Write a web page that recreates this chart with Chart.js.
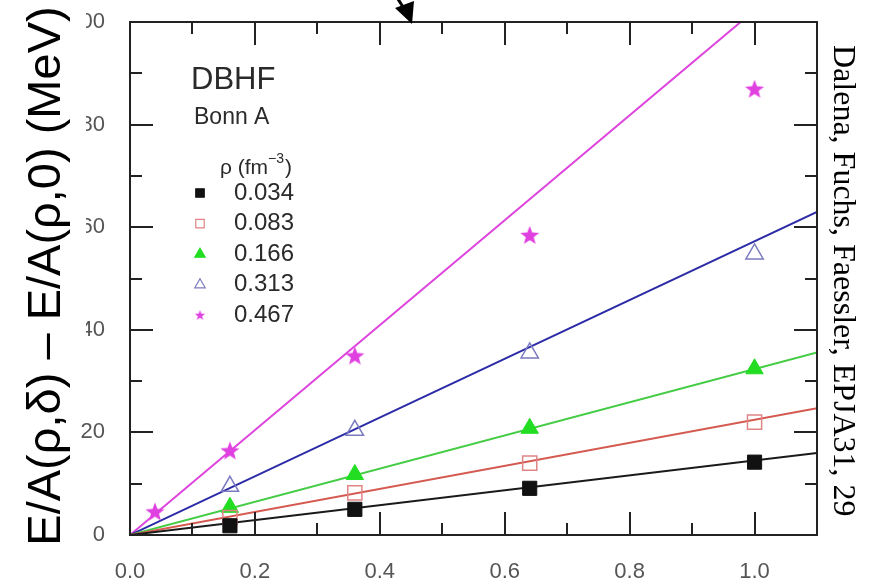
<!DOCTYPE html>
<html>
<head>
<meta charset="utf-8">
<script src="https://cdn.jsdelivr.net/npm/chart.js@4.4.1/dist/chart.umd.min.js"></script>
<style>
  html, body { margin: 0; padding: 0; background: #fff; }
  #wrap { width: 872px; height: 586px; }
</style>
</head>
<body>
<div id="wrap"><canvas id="deltaChart" width="872" height="586"></canvas></div>
<script>
// densities rho (fm^-3) and the data (x = delta^2)
const densities = ['0.034', '0.083', '0.166', '0.313', '0.467'];
const deltaSq = [0.16, 0.36, 0.64, 1.0];
const deltaSqStar = [0.04, 0.16, 0.36, 0.64, 1.0];

const rho034 = [1.8, 5.0, 9.1, 14.2];
const rho083 = [3.4, 8.2, 14.0, 22.0];
const rho166 = [5.4, 11.8, 20.8, 32.4];
const rho313 = [9.5, 20.4, 35.5, 54.8];
const rho467 = [4.4, 16.3, 34.8, 58.3, 86.8];

// straight-line fits, through origin
const fitX = [0, 1.1];
const fit034 = [0, 16.0];
const fit083 = [0, 24.7];
const fit166 = [0, 35.6];
const fit313 = [0, 63.0];
const fit467 = [0, 112.5];

const xTicks = [0, 0.2, 0.4, 0.6, 0.8, 1.0];
const yTicks = [0, 20, 40, 60, 80, 100];

const zip = (xs, ys) => xs.map((x, i) => ({ x: x, y: ys[i] }));

function makeStar(r, color) {
    const c = document.createElement('canvas');
    c.width = c.height = Math.ceil(r * 2 + 2);
    const g = c.getContext('2d');
    const cx = c.width / 2, cy = c.height / 2;
    g.beginPath();
    for (let i = 0; i < 10; i++) {
        const rad = i % 2 === 0 ? r : r * 0.42;
        const a = -Math.PI / 2 + i * Math.PI / 5;
        g.lineTo(cx + rad * Math.cos(a), cy + rad * Math.sin(a));
    }
    g.closePath();
    g.fillStyle = color;
    g.fill();
    return c;
}

const starBig = makeStar(10, '#e040e0');
const starSmall = makeStar(5.5, '#e040e0');

const markerSets = [
    { label: densities[0], data: zip(deltaSq, rho034), pointStyle: 'rect', pointRadius: 10,
      backgroundColor: '#111', borderColor: '#111', pointBorderWidth: 1 },
    { label: densities[1], data: zip(deltaSq, rho083), pointStyle: 'rect', pointRadius: 10,
      backgroundColor: 'rgba(0,0,0,0)', borderColor: '#e08585', pointBorderWidth: 1.5 },
    { label: densities[2], data: zip(deltaSq, rho166), pointStyle: 'triangle', pointRadius: 10,
      backgroundColor: '#22dd22', borderColor: '#22dd22', pointBorderWidth: 1 },
    { label: densities[3], data: zip(deltaSq, rho313), pointStyle: 'triangle', pointRadius: 10,
      backgroundColor: 'rgba(0,0,0,0)', borderColor: '#7a7abf', pointBorderWidth: 1.5 },
    { label: densities[4], data: zip(deltaSqStar, rho467), pointStyle: starBig, pointRadius: 10,
      backgroundColor: '#e040e0', borderColor: '#e040e0', pointBorderWidth: 0 }
];

const fitSets = [
    { data: zip(fitX, fit034), borderColor: '#1a1a1a' },
    { data: zip(fitX, fit083), borderColor: '#d45a50' },
    { data: zip(fitX, fit166), borderColor: '#44cc44' },
    { data: zip(fitX, fit313), borderColor: '#2b2ba8' },
    { data: zip(fitX, fit467), borderColor: '#dd44dd' }
];

const datasets = [];
fitSets.forEach(f => datasets.push({
    data: f.data, borderColor: f.borderColor, borderWidth: 2,
    showLine: true, pointRadius: 0, order: 2, clip: 0
}));
markerSets.forEach(m => datasets.push(Object.assign({ showLine: false, order: 1 }, m)));

const legendMarkers = [
    { style: 'rect', fill: '#111', stroke: '#111', r: 6 },
    { style: 'rect', fill: null, stroke: '#e08585', r: 6 },
    { style: 'triangle', fill: '#22dd22', stroke: '#22dd22', r: 6 },
    { style: 'triangle', fill: null, stroke: '#7a7abf', r: 6 },
    { style: starSmall }
];

const decorations = {
    id: 'decorations',
    afterDraw(chart) {
        const ctx = chart.ctx;
        const a = chart.chartArea;
        const xs = chart.scales.x, ys = chart.scales.y;
        ctx.save();

        // white block behind the big axis title (hides part of the tick labels, as in the scan)
        ctx.fillStyle = '#fff';
        ctx.fillRect(0, 0, 86, 345);

        // frame
        ctx.strokeStyle = '#222';
        ctx.lineWidth = 2;
        ctx.strokeRect(a.left, a.top, a.right - a.left, a.bottom - a.top);

        // inward ticks on all four sides
        ctx.lineWidth = 2;
        ctx.beginPath();
        for (let v = 0.1; v < 1.1; v += 0.1) {
            const px = Math.round(xs.getPixelForValue(v));
            const major = Math.round(v * 10) % 2 === 0;
            const len = major ? 23 : 12;
            ctx.moveTo(px, a.bottom); ctx.lineTo(px, a.bottom - len);
            ctx.moveTo(px, a.top); ctx.lineTo(px, a.top + len);
        }
        for (let v = 10; v < 100; v += 10) {
            const py = Math.round(ys.getPixelForValue(v));
            const major = v % 20 === 0;
            const len = major ? 23 : 12;
            ctx.moveTo(a.left, py); ctx.lineTo(a.left + len, py);
            ctx.moveTo(a.right, py); ctx.lineTo(a.right - len, py);
        }
        ctx.stroke();

        // big y axis title
        ctx.fillStyle = '#000';
        ctx.font = '47px "Liberation Sans", Arial, sans-serif';
        ctx.textAlign = 'center';
        ctx.textBaseline = 'alphabetic';
        ctx.save();
        ctx.translate(60, 276);
        ctx.rotate(-Math.PI / 2);
        ctx.fillText('E/A(\u03C1,\u03B4) \u2013 E/A(\u03C1,0) (MeV)', 0, 0);
        ctx.restore();

        // citation on the right
        ctx.save();
        ctx.font = '32px "Liberation Serif", "Times New Roman", serif';
        ctx.textAlign = 'left';
        ctx.translate(834, 45);
        ctx.rotate(Math.PI / 2);
        ctx.fillText('Dalena, Fuchs, Faessler, EPJA31, 29', 0, 0);
        ctx.restore();

        // labels inside the plot
        ctx.fillStyle = '#2a2a2a';
        ctx.textAlign = 'left';
        ctx.font = '31px "Liberation Sans", Arial, sans-serif';
        ctx.fillText('DBHF', 191, 89);
        ctx.font = '23px "Liberation Sans", Arial, sans-serif';
        ctx.fillText('Bonn A', 194, 124);

        // legend title
        ctx.font = '21px "Liberation Sans", Arial, sans-serif';
        ctx.textBaseline = 'middle';
        const t1 = '\u03C1 (fm';
        ctx.fillText(t1, 220, 168);
        const w1 = ctx.measureText(t1).width;
        ctx.font = '14px "Liberation Sans", Arial, sans-serif';
        ctx.fillText('\u22123', 220 + w1, 159);
        const w2 = ctx.measureText('\u22123').width;
        ctx.font = '21px "Liberation Sans", Arial, sans-serif';
        ctx.fillText(')', 220 + w1 + w2 + 1, 168);

        // legend rows
        ctx.font = '24px "Liberation Sans", Arial, sans-serif';
        densities.forEach((d, i) => {
            const y = 193 + i * 30.6;
            const m = legendMarkers[i];
            if (m.style instanceof HTMLCanvasElement) {
                ctx.drawImage(m.style, 200 - m.style.width / 2, y - m.style.height / 2);
            } else {
                ctx.fillStyle = m.fill || 'rgba(0,0,0,0)';
                ctx.strokeStyle = m.stroke;
                ctx.lineWidth = 1.2;
                Chart.helpers.drawPoint(ctx, { pointStyle: m.style, radius: m.r, rotation: 0, borderWidth: 1.2 }, 200, y);
            }
            ctx.fillStyle = '#2a2a2a';
            ctx.fillText(d, 234, y);
        });

        // arrow at the top
        ctx.strokeStyle = '#000';
        ctx.fillStyle = '#000';
        ctx.lineWidth = 3;
        ctx.beginPath();
        ctx.moveTo(396, -4);
        ctx.lineTo(405, 10);
        ctx.stroke();
        ctx.beginPath();
        ctx.moveTo(412, 24);
        ctx.lineTo(395, 8);
        ctx.lineTo(414, 1);
        ctx.closePath();
        ctx.fill();

        ctx.restore();
    }
};

const tickFont = { family: '"Liberation Sans", Arial, sans-serif', size: 22 };

new Chart(document.getElementById('deltaChart').getContext('2d'), {
    type: 'scatter',
    data: { datasets: datasets },
    options: {
        responsive: false,
        devicePixelRatio: 1,
        animation: false,
        layout: { padding: { left: 0, right: 55, top: 22, bottom: 0 } },
        plugins: { legend: { display: false }, tooltip: { enabled: false } },
        scales: {
            x: {
                type: 'linear', min: 0, max: 1.1,
                afterBuildTicks: s => { s.ticks = xTicks.map(v => ({ value: v })); },
                afterFit: s => { s.height = 51; s.paddingLeft = 0; s.paddingRight = 0; },
                grid: { display: false, drawTicks: false },
                border: { display: false },
                ticks: { color: '#555', font: tickFont, padding: 24, maxRotation: 0,
                         callback: v => v.toFixed(1) }
            },
            y: {
                type: 'linear', min: 0, max: 100,
                afterBuildTicks: s => { s.ticks = yTicks.map(v => ({ value: v })); },
                afterFit: s => { s.width = 130; s.paddingTop = 0; s.paddingBottom = 0; },
                grid: { display: false, drawTicks: false },
                border: { display: false },
                ticks: { color: '#555', font: tickFont, padding: 25,
                         callback: v => String(v) }
            }
        }
    },
    plugins: [decorations]
});
</script>
</body>
</html>
